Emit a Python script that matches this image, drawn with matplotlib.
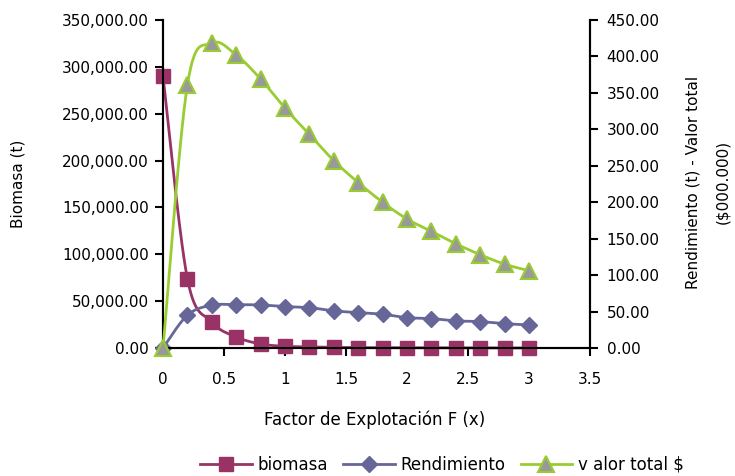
import numpy as np
import matplotlib
matplotlib.use("Agg")
import matplotlib.pyplot as plt
from matplotlib.ticker import FuncFormatter, MultipleLocator
from matplotlib.lines import Line2D

# Fishing mortality factor F
factor_f = [0.0, 0.2, 0.4, 0.6, 0.8, 1.0, 1.2, 1.4, 1.6, 1.8, 2.0, 2.2, 2.4, 2.6, 2.8, 3.0]

# Biomass (t)
biomasa = [290000, 74000, 27800, 11800, 4300, 1800, 1200, 700, 400, 300, 200, 150, 100, 80, 60, 50]

# Yield (t)
rendimiento = [0, 35000, 45700, 46200, 45900, 44200, 43100, 39600, 37800, 36000,
               32400, 31400, 28900, 28200, 26000, 24600]

# Total value ($000.000)
valor_total = [0, 361, 418, 402, 369, 329, 293, 257, 227, 200, 177, 160, 143, 128, 115, 106]

x_ticks = [0, 0.5, 1, 1.5, 2, 2.5, 3, 3.5]


def smooth(x, y, n=30):
    """Catmull-Rom style smoothed curve through the points (as in spreadsheet charts)."""
    x = np.asarray(x, float)
    y = np.asarray(y, float)
    px = np.concatenate([[x[0]], x, [x[-1]]])
    py = np.concatenate([[y[0]], y, [y[-1]]])
    xs, ys = [], []
    t = np.linspace(0, 1, n)
    for i in range(1, len(px) - 2):
        p0 = np.array([px[i], py[i]])
        p3 = np.array([px[i + 1], py[i + 1]])
        c1 = p0 + (np.array([px[i + 1], py[i + 1]]) - np.array([px[i - 1], py[i - 1]])) / 6.0
        c2 = p3 - (np.array([px[i + 2], py[i + 2]]) - np.array([px[i], py[i]])) / 6.0
        b = ((1 - t) ** 3)[:, None] * p0 + (3 * (1 - t) ** 2 * t)[:, None] * c1 \
            + (3 * (1 - t) * t ** 2)[:, None] * c2 + (t ** 3)[:, None] * p3
        xs.append(b[:, 0])
        ys.append(b[:, 1])
    return np.concatenate(xs), np.concatenate(ys)


plt.rcParams['font.family'] = ['DejaVu Sans']
fs_tick = 11
fs_lab = 11

c_bio = '#993366'
c_ren = '#666699'
c_val = '#99CC33'
c_tri = '#999999'

fig = plt.figure(figsize=(7.35, 4.76), dpi=100)
ax = fig.add_axes([163 / 735, 1 - 348 / 476, (590 - 163) / 735, (348 - 20) / 476])
ax2 = ax.twinx()

# Biomass on the left axis
sx, sy = smooth(factor_f, biomasa)
ax.plot(sx, sy, color=c_bio, lw=2, zorder=3)
ax.plot(factor_f, biomasa, ls='none', marker='s', ms=10, color=c_bio, zorder=4)

# Yield on the left axis (tonnes)
sx, sy = smooth(factor_f, rendimiento)
ax.plot(sx, sy, color=c_ren, lw=2, zorder=3)
ax.plot(factor_f, rendimiento, ls='none', marker='D', ms=8.5, color=c_ren, zorder=4)

# Total value on the right axis
sx, sy = smooth(factor_f, valor_total)
ax2.plot(sx, sy, color=c_val, lw=2, zorder=3)
ax2.plot(factor_f, valor_total, ls='none', marker='^', ms=12, markerfacecolor=c_tri,
         markeredgecolor=c_val, markeredgewidth=1.5, zorder=4)

ax.set_xlim(0, 3.5)
ax.set_ylim(0, 350000)
ax2.set_ylim(0, 450)
ax.set_xticks(x_ticks)
ax.xaxis.set_major_formatter(FuncFormatter(lambda v, p: f"{v:g}"))
ax.yaxis.set_major_locator(MultipleLocator(50000))
ax.yaxis.set_major_formatter(FuncFormatter(lambda v, p: f"{v:,.2f}"))
ax2.yaxis.set_major_locator(MultipleLocator(50))
ax2.yaxis.set_major_formatter(FuncFormatter(lambda v, p: f"{v:.2f}"))

for a in (ax, ax2):
    a.spines['top'].set_visible(False)
    for s in a.spines.values():
        s.set_linewidth(1.5)
        s.set_color('black')
    a.tick_params(direction='out', length=6, width=1.5, labelsize=fs_tick, colors='black')
ax.tick_params(axis='x', pad=11)
ax.tick_params(axis='y', pad=4)
ax2.tick_params(axis='y', pad=6)
for ln in ax.lines + ax2.lines:
    ln.set_clip_on(False)

# Axis titles
fig.text(375 / 735, 1 - 420 / 476, 'Factor de Explotación F (x)', fontsize=12,
         ha='center', va='center')
fig.text(18 / 735, 1 - 184 / 476, 'Biomasa (t)', fontsize=fs_lab, rotation=90,
         ha='center', va='center')
fig.text(693 / 735, 1 - 182 / 476, 'Rendimiento (t) - Valor total', fontsize=fs_lab,
         rotation=90, ha='center', va='center')
fig.text(723 / 735, 1 - 182 / 476, '($000.000)', fontsize=fs_lab, rotation=90,
         ha='center', va='center')

handles = [
    Line2D([], [], color=c_bio, lw=2, marker='s', ms=10),
    Line2D([], [], color=c_ren, lw=2, marker='D', ms=8.5),
    Line2D([], [], color=c_val, lw=2, marker='^', ms=12, markerfacecolor=c_tri,
           markeredgecolor=c_val, markeredgewidth=1.5),
]
fig.legend(handles, ['biomasa', 'Rendimiento', 'v alor total $'], loc='center',
           bbox_to_anchor=(442 / 735, 1 - 465 / 476), ncol=3, frameon=False,
           fontsize=12, handlelength=3.1, columnspacing=0.9, handletextpad=0.35)

fig.savefig('out.png', dpi=100)
